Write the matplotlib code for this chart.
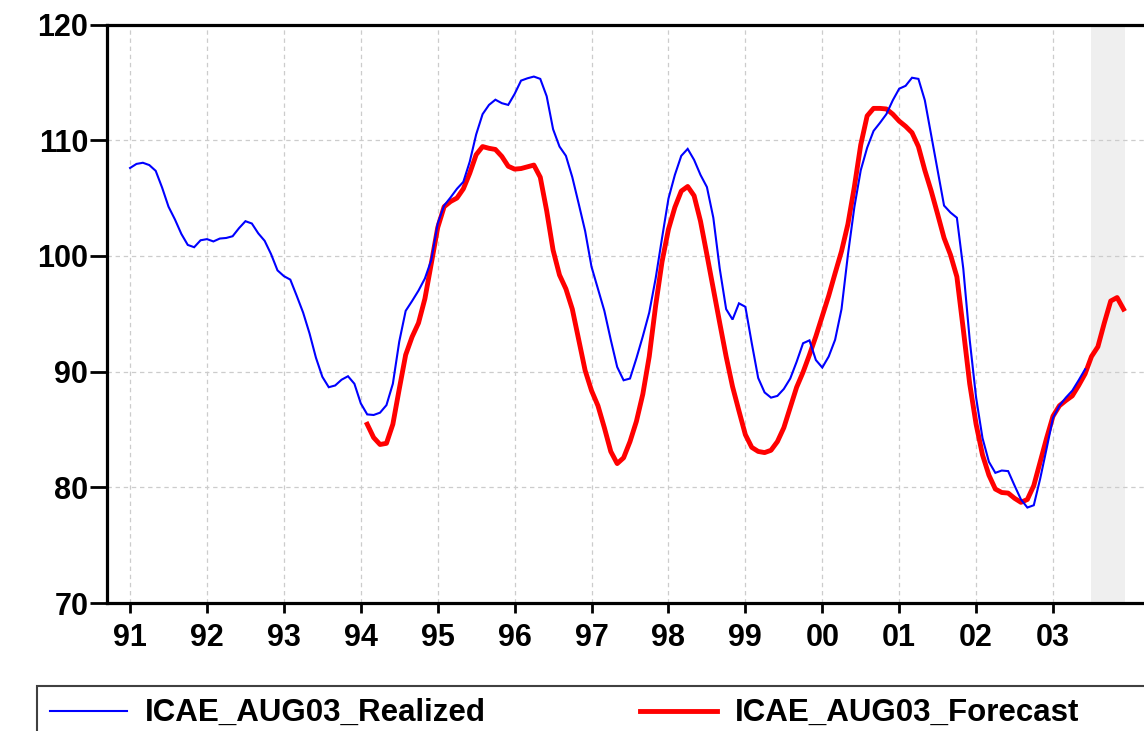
import numpy as np
import matplotlib
matplotlib.use("Agg")
import matplotlib.pyplot as plt
from matplotlib.lines import Line2D
from matplotlib.patches import Rectangle

plt.rcParams['font.family'] = ['Liberation Sans', 'DejaVu Sans']
plt.rcParams['font.weight'] = 'bold'

# ---- data (monthly) ----
realized_start_year = 1991
realized_start_month = 1
realized = [
    107.6, 107.95, 108.05, 107.85, 107.35, 105.9, 104.25, 103.15, 101.9, 100.95, 100.75, 101.35,
    101.45, 101.25, 101.5, 101.55, 101.7, 102.4, 103.0, 102.8, 101.95, 101.3, 100.15, 98.75,
    98.25, 97.95, 96.55, 95.1, 93.3, 91.2, 89.55, 88.65, 88.8, 89.3, 89.6, 88.95,
    87.25, 86.3, 86.25, 86.45, 87.1, 88.95, 92.6, 95.25, 96.1, 97.0, 98.05, 99.65,
    102.8, 104.35, 105.05, 105.8, 106.4, 108.15, 110.5, 112.25, 113.05, 113.5, 113.2, 113.05,
    114.0, 115.15, 115.35, 115.5, 115.3, 113.8, 110.95, 109.45, 108.65, 106.8, 104.5, 102.15,
    99.05, 97.15, 95.25, 92.75, 90.4, 89.25, 89.4, 91.15, 93.05, 95.1, 98.05, 101.55,
    104.95, 107.0, 108.65, 109.25, 108.3, 107.0, 105.95, 103.3, 98.9, 95.4, 94.5, 95.9,
    95.6, 92.45, 89.45, 88.2, 87.75, 87.9, 88.5, 89.4, 90.85, 92.45, 92.7, 91.0,
    90.35, 91.3, 92.75, 95.4, 100.1, 104.2, 107.4, 109.35, 110.8, 111.5, 112.25, 113.45,
    114.45, 114.7, 115.4, 115.3, 113.45, 110.4, 107.4, 104.35, 103.75, 103.3, 98.9, 92.75,
    87.75, 84.25, 82.2, 81.25, 81.45, 81.4, 80.15, 78.95, 78.25, 78.45, 80.75, 83.35,
    86.0, 87.05, 87.75, 88.35, 89.25, 90.2,
]

forecast_start_year = 1994
forecast_start_month = 2
forecast = [
    85.45, 84.3, 83.7, 83.8, 85.45, 88.5, 91.45, 93.0, 94.2, 96.3, 99.35,
    102.45, 104.25, 104.7, 105.0, 105.8, 107.15, 108.75, 109.45, 109.3, 109.2, 108.6, 107.75,
    107.5, 107.55, 107.7, 107.85, 106.8, 103.9, 100.5, 98.35, 97.15, 95.4, 92.75, 90.1,
    88.35, 87.05, 85.15, 83.1, 82.05, 82.55, 83.95, 85.7, 88.05, 91.3, 95.7, 99.5,
    102.3, 104.2, 105.6, 106.0, 105.2, 103.0, 100.1, 97.15, 94.2, 91.3, 88.7, 86.6,
    84.55, 83.45, 83.1, 83.0, 83.2, 83.95, 85.15, 86.9, 88.65, 89.95, 91.45, 93.05,
    94.8, 96.55, 98.5, 100.4, 102.75, 105.95, 109.6, 112.1, 112.75, 112.75, 112.7, 112.25,
    111.65, 111.2, 110.65, 109.45, 107.4, 105.6, 103.6, 101.55, 100.1, 98.2, 93.65, 88.95,
    85.45, 82.8, 81.05, 79.85, 79.55, 79.5, 79.05, 78.7, 78.95, 80.15, 82.2, 84.25,
    86.15, 87.05, 87.5, 87.9, 88.8, 89.8, 91.3, 92.15, 94.2, 96.1, 96.4, 95.4,
]

series_names = ["ICAE_AUG03_Realized", "ICAE_AUG03_Forecast"]
year_ticks = list(range(1991, 2004))
year_labels = ["91", "92", "93", "94", "95", "96", "97", "98", "99", "00", "01", "02", "03"]
y_ticks = [70, 80, 90, 100, 110, 120]
shade_span = (2003.50, 2003.94)

def month_axis(y0, m0, n):
    return y0 + (m0 - 1) / 12.0 + np.arange(n) / 12.0

x_real = month_axis(realized_start_year, realized_start_month, len(realized))
x_fore = month_axis(forecast_start_year, forecast_start_month, len(forecast))

W, H = 1144, 731
FS = 22
fig = plt.figure(figsize=(W / 100, H / 100), dpi=100)
left_px, right_px, top_px, bottom_px = 107, 1153, 24.5, 603
ax = fig.add_axes([left_px / W, (H - bottom_px) / H,
                   (right_px - left_px) / W, (bottom_px - top_px) / H])

blue = '#0000FF'
red = '#FF0000'

ax.axvspan(*shade_span, color='#EFEFEF', zorder=0, lw=0)
ax.plot(x_real, realized, color=blue, lw=1.5, zorder=3, solid_joinstyle='miter')
ax.plot(x_fore, forecast, color=red, lw=3.5, zorder=2, solid_joinstyle='round')

ax.set_xlim(1990.70, 2004.30)
ax.set_ylim(70, 120)
ax.set_xticks(year_ticks)
ax.set_xticklabels(year_labels)
ax.set_yticks(y_ticks)
ax.set_yticklabels([str(v) for v in y_ticks])

ax.grid(True, color='#CCCCCC', linestyle=(0, (3.5, 3)), linewidth=0.9, zorder=1)
ax.set_axisbelow(True)

for side in ['left', 'top', 'bottom']:
    ax.spines[side].set_linewidth(2.3)
    ax.spines[side].set_color('black')
ax.spines['right'].set_visible(False)

ax.tick_params(axis='y', direction='out', length=12, width=2.0, pad=1.5,
               labelsize=FS)
ax.tick_params(axis='x', direction='out', length=7, width=2.0, pad=7.5,
               labelsize=FS)
for lab in ax.get_xticklabels() + ax.get_yticklabels():
    lab.set_fontweight('bold')

# ---- legend (manual, box partly outside the figure as in the reference) ----
fig.patches.append(Rectangle((37 / W, -0.05), 1.2, (H - 686) / H + 0.05,
                             transform=fig.transFigure, fill=False,
                             edgecolor='#404040', lw=1.5))
leg_y = (H - 711) / H
text_y = (H - 713) / H
fig.lines.append(Line2D([50 / W, 127 / W], [leg_y, leg_y], transform=fig.transFigure,
                        color=blue, lw=1.5))
fig.lines.append(Line2D([640 / W, 717 / W], [leg_y, leg_y], transform=fig.transFigure,
                        color=red, lw=3.5))
fig.text(145 / W, text_y, series_names[0], fontsize=22.5, fontweight='bold',
         va='center', ha='left')
fig.text(735 / W, text_y, series_names[1], fontsize=22.5, fontweight='bold',
         va='center', ha='left')

fig.savefig('out.png', dpi=100)
